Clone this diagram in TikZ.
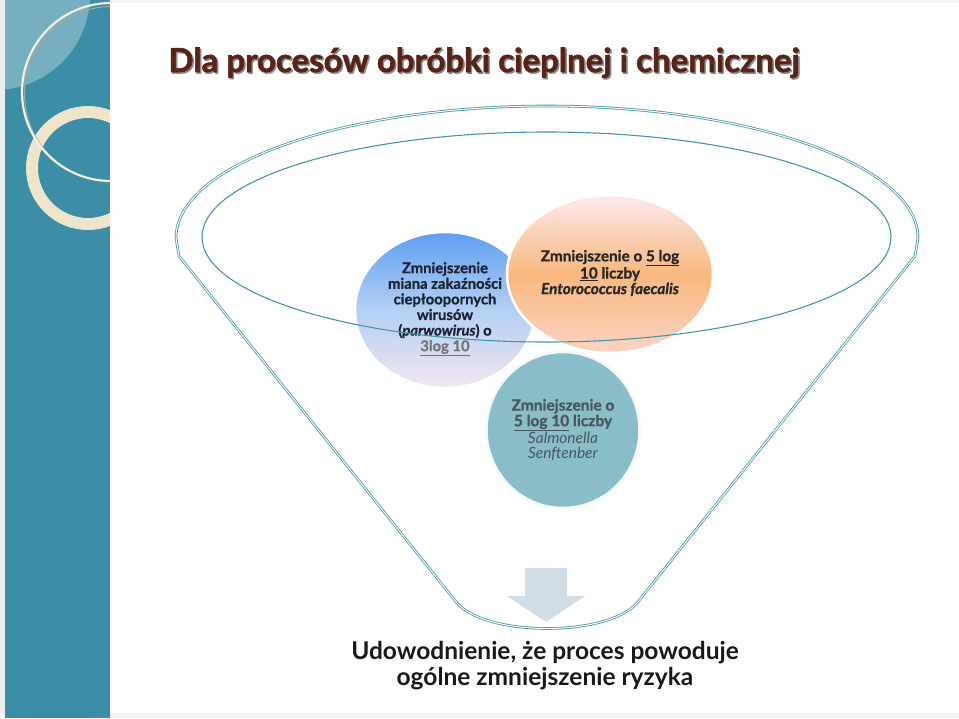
\documentclass[tikz,border=0pt]{standalone}
\usepackage{fontspec}
\setmainfont{Lato}
\newfontfamily\heavyfont{Lato}[BoldFeatures={FakeBold=1.6}]
\newfontfamily\thickfont{Lato}[BoldFeatures={FakeBold=0.8}, BoldItalicFeatures={FakeBold=0.8}]
\usetikzlibrary{shapes.geometric}
\definecolor{slidebar}{HTML}{3B8EA6}
\definecolor{slideedge}{HTML}{E9EFF1}
\definecolor{ringcream}{HTML}{EFE4CC}
\definecolor{rimteal}{HTML}{4597A8}
\definecolor{titlebrown}{HTML}{5A2318}
\definecolor{virusblue}{HTML}{5F9EF2}
\definecolor{virusmid}{HTML}{B3D0F4}
\definecolor{viruspale}{HTML}{F2E6F1}
\definecolor{virustext}{HTML}{1C2233}
\definecolor{enteropink}{HTML}{FDE9EF}
\definecolor{enteroorange}{HTML}{F8B87E}
\definecolor{enteropeach}{HTML}{F9D4C4}
\definecolor{salmonteal}{HTML}{88BDC9}
\definecolor{salmontext}{HTML}{4B5560}
\definecolor{arrowgray}{HTML}{D2DEE7}

\begin{document}
\begin{tikzpicture}[x=1pt, y=-1pt,
  bubble/.style={ellipse, draw=white, line width=2.5pt, inner sep=0pt},
  bubbletext/.style={align=center, font=\fontsize{#1}{15.6}\selectfont\thickfont\bfseries},
  rim/.style={draw=rimteal, double=white, double distance=1pt, line width=0.8pt},
  innerrim/.style={draw=rimteal, line width=1.1pt},
]
\useasboundingbox (0,0) rectangle (959,718);

% Slide frame
\fill[white] (0,0) rectangle (959,718);
\fill[slideedge] (0,0) rectangle (5,718);
\fill[slideedge!70] (110,0) rectangle (959,3);
\fill[slideedge!60] (0,713) rectangle (959,718);

% =============================================
% Left bar with rings
% =============================================
\fill[slidebar] (5,0) rectangle (110,718);
\begin{scope}
  \clip (5,0) rectangle (110,718);
  \fill[white, opacity=0.3] (-5,-5) circle[radius=95];
  \draw[ringcream, line width=12pt] (88,168) circle[radius=56];
  \draw[black!35, line width=1pt] (112,94) circle[radius=87.5];
  \draw[ringcream!60!white, line width=2.2pt] (111,92) circle[radius=89];
\end{scope}

% Title
\node[anchor=base west, font=\fontsize{33}{38}\selectfont\heavyfont\bfseries, text=black!45]
  (titleshadow) at (166.5,73.5) {Dla procesów obróbki cieplnej i chemicznej};
\node[anchor=base west, font=\fontsize{33}{38}\selectfont\heavyfont\bfseries, text=titlebrown]
  (title) at (165,72) {Dla procesów obróbki cieplnej i chemicznej};

% =============================================
% Funnel
% =============================================
\draw[rim] (457,603) -- (179,256) -- (176,238)
  arc[start angle=180, end angle=360, x radius=371, y radius=132]
  -- (915,256) -- (637,603) .. controls (607,637) and (487,637) .. cycle;

% Circles
\node[bubble, minimum width=180pt, minimum height=156pt,
  top color=virusblue, bottom color=viruspale, middle color=virusmid] (virus) at (445,310) {};
\node[bubble, minimum width=153pt, minimum height=156pt, fill=salmonteal,
  draw=white!90!salmonteal] (salmon) at (563,430) {};
\node[bubble, minimum width=206pt, minimum height=158pt,
  top color=enteropink, bottom color=enteropeach, middle color=enteroorange] (entero) at (610,274) {};

% Circle texts
\node[bubbletext=14.8, text=virustext] (virustxt) at ([yshift=1]virus) {Zmniejszenie\\ miana zakaźności\\ ciepłoopornych\\ wirusów\\ (\textit{parwowirus}) o\\ \textcolor{black!55}{\underline{3log 10}}};
\node[bubbletext=15.3, text=black!85] (enterotxt) at ([yshift=1]entero) {Zmniejszenie o \underline{5 log}\\ \underline{10} liczby\\ \textit{Entorococcus faecalis}};
\node[bubbletext=15.5, text=salmontext] (salmontxt) at (salmon) {Zmniejszenie o\\ \underline{5 log 10} liczby\\ \mdseries\itshape Salmonella\\ \mdseries\itshape Senftenber};

% Inner rim over the circles
\draw[innerrim] (546.5,237) ellipse[x radius=344.5, y radius=105];

% Down arrow
\fill[arrowgray] (525,568) -- (567,568) -- (567,596) -- (585,596) -- (546,622)
  -- (507,596) -- (525,596) -- cycle;

% Result
\node[align=center, font=\fontsize{24.5}{26}\selectfont\bfseries, text=black!90]
  (proof) at (545,666) {Udowodnienie, że proces powoduje\\ ogólne zmniejszenie ryzyka};

\end{tikzpicture}
\end{document}
